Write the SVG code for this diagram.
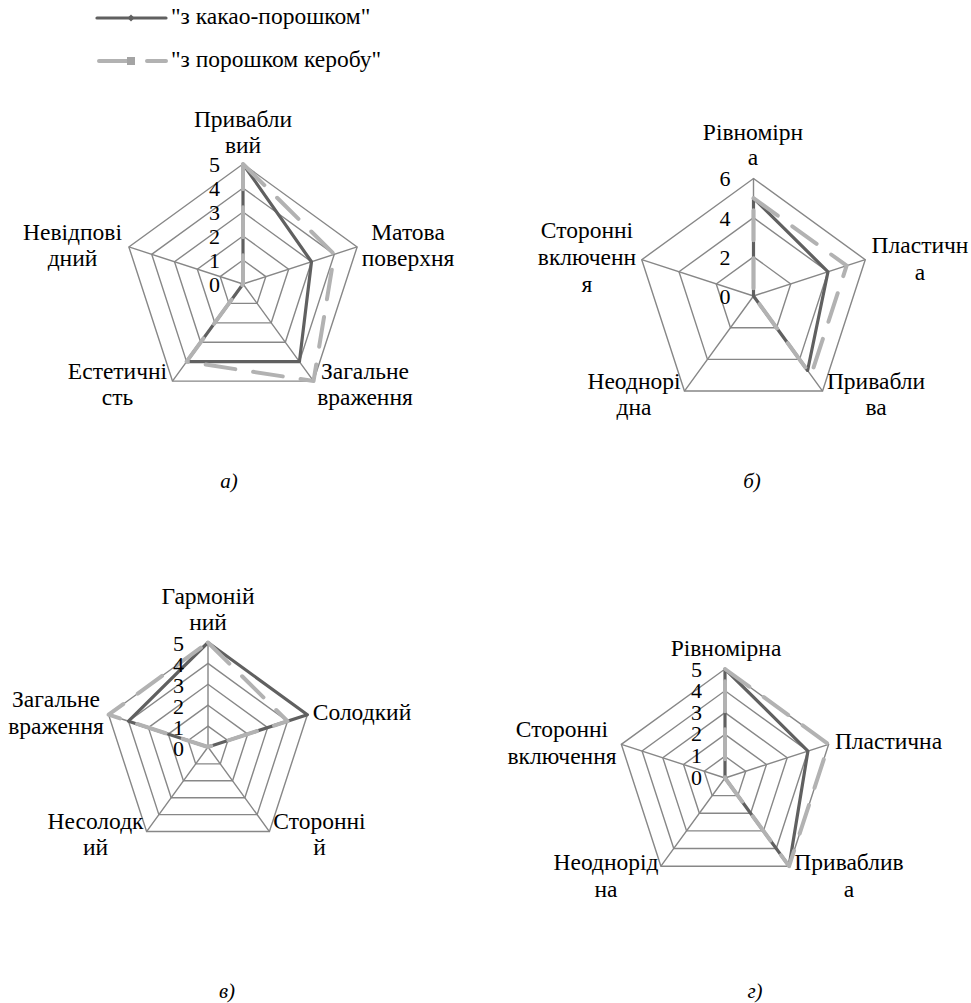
<svg xmlns="http://www.w3.org/2000/svg" width="971" height="1003" viewBox="0 0 971 1003" font-family="Liberation Serif, Tinos, Times New Roman, serif">
<style>
text{font-size:23.5px;fill:#000}
.lbl{text-anchor:middle}
.num{text-anchor:end;font-size:22px}
.cap{font-style:italic;font-size:21px;text-anchor:middle}
.grid{fill:none;stroke:#878787;stroke-width:1.4}
.dark{fill:none;stroke:#606060;stroke-width:3.2;stroke-linejoin:round}
.light{fill:none;stroke:#b2b2b2;stroke-width:4;stroke-linejoin:round;stroke-linecap:round;stroke-dasharray:30 18}
</style>
<rect width="971" height="1003" fill="#fff"/>
<g id="legend" font-family="Liberation Serif, serif">
<line x1="97" y1="18" x2="166" y2="18" class="dark" style="stroke-linecap:round"/>
<polygon points="131,14.5 134.5,18 131,21.5 127.5,18" fill="#606060"/>
<text x="171" y="24">"з какао-порошком"</text>
<line x1="99" y1="61" x2="166" y2="61" class="light"/>
<rect x="127" y="57" width="8" height="8" fill="#a4a4a4"/>
<text x="171" y="67">"з порошком керобу"</text>
</g>
<g id="chart-a" transform="translate(243,284)" font-family="Liberation Serif, serif">
<g class="grid">
<polygon points="0,-24 22.83,-7.42 14.11,19.42 -14.11,19.42 -22.83,-7.42"/>
<polygon points="0,-48 45.65,-14.83 28.21,38.83 -28.21,38.83 -45.65,-14.83"/>
<polygon points="0,-72 68.48,-22.25 42.32,58.25 -42.32,58.25 -68.48,-22.25"/>
<polygon points="0,-96 91.30,-29.67 56.43,77.67 -56.43,77.67 -91.30,-29.67"/>
<polygon points="0,-120 114.13,-37.08 70.53,97.08 -70.53,97.08 -114.13,-37.08"/>
<path d="M0,0L0,-120M0,0L114.13,-37.08M0,0L70.53,97.08M0,0L-70.53,97.08M0,0L-114.13,-37.08"/>
</g>
<g id="series-a">
<polygon class="dark" points="0,-120 68.48,-22.25 56.43,77.67 -56.43,77.67 0,0"/>
<polygon class="light" points="0,-120 91.30,-29.67 70.53,97.08 -56.43,77.67 0,0"/>
</g>
<text class="num" x="-23" y="8">0</text>
<text class="num" x="-23" y="-16">1</text>
<text class="num" x="-23" y="-40">2</text>
<text class="num" x="-23" y="-64">3</text>
<text class="num" x="-23" y="-88">4</text>
<text class="num" x="-23" y="-112">5</text>
</g>
<g id="labels-a" font-family="Liberation Serif, serif">
<text class="lbl" x="243" y="126.5">Привабли</text><text class="lbl" x="243" y="153">вий</text>
<text class="lbl" x="408" y="239.5">Матова</text><text class="lbl" x="408" y="266">поверхня</text>
<text class="lbl" x="365" y="378.5">Загальне</text><text class="lbl" x="365" y="405">враження</text>
<text class="lbl" x="117.5" y="378.5">Естетичні</text><text class="lbl" x="117.5" y="405">сть</text>
<text class="lbl" x="72.5" y="239.5">Невідпові</text><text class="lbl" x="72.5" y="266">дний</text>
</g>
<g id="chart-b" transform="translate(753.5,296)" font-family="Liberation Serif, serif">
<g class="grid">
<polygon points="0,-39.17 37.25,-12.10 23.02,31.69 -23.02,31.69 -37.25,-12.10"/>
<polygon points="0,-78.33 74.50,-24.21 46.04,63.37 -46.04,63.37 -74.50,-24.21"/>
<polygon points="0,-117.5 111.75,-36.31 69.07,95.06 -69.07,95.06 -111.75,-36.31"/>
<path d="M0,0L0,-117.5M0,0L111.75,-36.31M0,0L69.07,95.06M0,0L-69.07,95.06M0,0L-111.75,-36.31"/>
</g>
<g id="series-b">
<polygon class="dark" points="0,-97.92 74.50,-24.21 54.10,74.46 0,0 0,0"/>
<polygon class="light" points="0,-97.92 93.13,-30.26 57.56,79.22 0,0 0,0"/>
</g>
<text class="num" x="-23" y="8">0</text>
<text class="num" x="-23" y="-31">2</text>
<text class="num" x="-23" y="-70">4</text>
<text class="num" x="-23" y="-110">6</text>
</g>
<g id="labels-b" font-family="Liberation Serif, serif">
<text class="lbl" x="753" y="139.5">Рівномірн</text><text class="lbl" x="753" y="165">а</text>
<text class="lbl" x="920" y="252.5">Пластичн</text><text class="lbl" x="920" y="280">а</text>
<text class="lbl" x="876" y="388.5">Привабли</text><text class="lbl" x="876" y="415">ва</text>
<text class="lbl" x="634" y="388.5">Неоднорі</text><text class="lbl" x="634" y="415">дна</text>
<text class="lbl" x="587" y="238">Сторонні</text><text class="lbl" x="587" y="265">включенн</text><text class="lbl" x="587" y="291.5">я</text>
</g>
<g id="chart-c" transform="translate(208,747)" font-family="Liberation Serif, serif">
<g class="grid">
<polygon points="0,-20.9 19.88,-6.46 12.28,16.91 -12.28,16.91 -19.88,-6.46"/>
<polygon points="0,-41.8 39.75,-12.92 24.57,33.82 -24.57,33.82 -39.75,-12.92"/>
<polygon points="0,-62.7 59.63,-19.38 36.85,50.73 -36.85,50.73 -59.63,-19.38"/>
<polygon points="0,-83.6 79.51,-25.83 49.14,67.63 -49.14,67.63 -79.51,-25.83"/>
<polygon points="0,-104.5 99.39,-32.29 61.42,84.54 -61.42,84.54 -99.39,-32.29"/>
<path d="M0,0L0,-104.5M0,0L99.39,-32.29M0,0L61.42,84.54M0,0L-61.42,84.54M0,0L-99.39,-32.29"/>
</g>
<g id="series-c">
<polygon class="dark" points="0,-104.5 99.39,-32.29 0,0 0,0 -79.51,-25.83"/>
<polygon class="light" points="0,-104.5 79.51,-25.83 0,0 0,0 -99.39,-32.29"/>
</g>
<text class="num" x="-24" y="9">0</text>
<text class="num" x="-24" y="-12">1</text>
<text class="num" x="-24" y="-33">2</text>
<text class="num" x="-24" y="-54">3</text>
<text class="num" x="-24" y="-75">4</text>
<text class="num" x="-24" y="-96">5</text>
</g>
<g id="labels-c" font-family="Liberation Serif, serif">
<text class="lbl" x="208" y="603.5">Гармоній</text><text class="lbl" x="208" y="630">ний</text>
<text class="lbl" x="362" y="720">Солодкий</text>
<text class="lbl" x="319.5" y="828.5">Сторонні</text><text class="lbl" x="319.5" y="855">й</text>
<text class="lbl" x="95.5" y="828.5">Несолодк</text><text class="lbl" x="95.5" y="855">ий</text>
<text class="lbl" x="56" y="707">Загальне</text><text class="lbl" x="56" y="733.5">враження</text>
</g>
<g id="chart-d" transform="translate(725,778)" font-family="Liberation Serif, serif">
<g class="grid">
<polygon points="0,-21.8 20.73,-6.74 12.81,17.64 -12.81,17.64 -20.73,-6.74"/>
<polygon points="0,-43.6 41.47,-13.47 25.63,35.27 -25.63,35.27 -41.47,-13.47"/>
<polygon points="0,-65.4 62.20,-20.21 38.44,52.91 -38.44,52.91 -62.20,-20.21"/>
<polygon points="0,-87.2 82.93,-26.95 51.25,70.55 -51.25,70.55 -82.93,-26.95"/>
<polygon points="0,-109 103.67,-33.68 64.07,88.18 -64.07,88.18 -103.67,-33.68"/>
<path d="M0,0L0,-109M0,0L103.67,-33.68M0,0L64.07,88.18M0,0L-64.07,88.18M0,0L-103.67,-33.68"/>
</g>
<g id="series-d">
<polygon class="dark" points="0,-109 82.93,-26.95 64.07,88.18 0,0 0,0"/>
<polygon class="light" points="0,-109 103.67,-33.68 64.07,88.18 0,0 0,0"/>
</g>
<text class="num" x="-23" y="7">0</text>
<text class="num" x="-23" y="-15">1</text>
<text class="num" x="-23" y="-37">2</text>
<text class="num" x="-23" y="-58">3</text>
<text class="num" x="-23" y="-80">4</text>
<text class="num" x="-23" y="-101">5</text>
</g>
<g id="labels-d" font-family="Liberation Serif, serif">
<text class="lbl" x="726" y="656">Рівномірна</text>
<text class="lbl" x="888.5" y="748.5">Пластична</text>
<text class="lbl" x="849" y="870">Приваблив</text><text class="lbl" x="849" y="896.5">а</text>
<text class="lbl" x="606" y="870">Неоднорід</text><text class="lbl" x="606" y="896.5">на</text>
<text class="lbl" x="562" y="737">Сторонні</text><text class="lbl" x="562" y="763.5">включення</text>
</g>
<g id="captions" font-family="Liberation Serif, serif">
<text class="cap" x="229" y="488">а)</text>
<text class="cap" x="752" y="488">б)</text>
<text class="cap" x="227" y="998">в)</text>
<text class="cap" x="755" y="998">г)</text>
</g>
</svg>
